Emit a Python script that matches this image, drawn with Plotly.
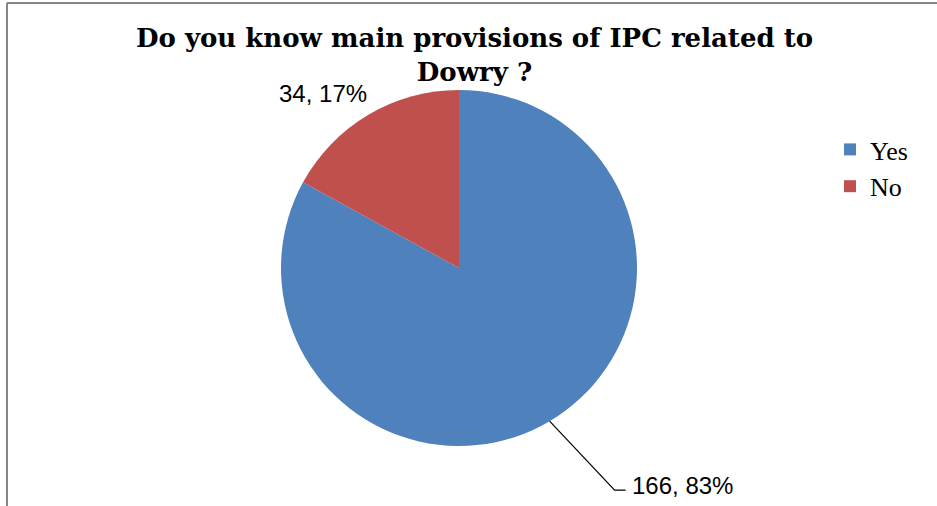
import math
import plotly.graph_objects as go

# Survey answers
labels = ["Yes", "No"]
counts = [166, 34]
shares = ["83%", "17%"]
colors = ["#4F81BD", "#C0504D"]
title_text = "Do you know main provisions of IPC related to<br>Dowry ?"

W, H = 937, 506
cx, cy, r = 459, 268, 178  # pie centre / radius in pixels (origin top-left)


def px_to_paper(x, y):
    return x / W, 1 - y / H


fig = go.Figure(
    go.Pie(
        labels=labels,
        values=counts,
        marker=dict(colors=colors, line=dict(width=0)),
        sort=False,
        direction="clockwise",
        rotation=0,
        textinfo="none",
        hoverinfo="label+value+percent",
        domain=dict(x=[(cx - r) / W, (cx + r) / W],
                    y=[(H - cy - r) / H, (H - cy + r) / H]),
    )
)

# Data labels placed at the middle angle of each slice
total = sum(counts)
cum = 0
shapes = []
annotations = []
label_font = dict(family="Liberation Sans", size=24, color="black")
for i, (v, s) in enumerate(zip(counts, shares)):
    theta = 2 * math.pi * (cum + v / 2) / total
    cum += v
    ex = cx + r * math.sin(theta)
    ey = cy - r * math.cos(theta)
    text = f"{v}, {s}"
    if i == 0:
        # leader line with an elbow, label to its right
        bx, by = ex + 65, ey + 69
        fx = bx + 11
        p0 = px_to_paper(ex, ey)
        p1 = px_to_paper(bx, by)
        p2 = px_to_paper(fx, by)
        shapes.append(dict(type="path", xref="paper", yref="paper",
                           path=f"M {p0[0]},{p0[1]} L {p1[0]},{p1[1]} L {p2[0]},{p2[1]}",
                           line=dict(color="black", width=1.2)))
        lx, ly = px_to_paper(fx + 4, by - 5)
        annotations.append(dict(x=lx, y=ly, xref="paper", yref="paper", text=text,
                                showarrow=False, xanchor="left", yanchor="middle",
                                font=label_font))
    else:
        lx, ly = px_to_paper(ex + 1, ey - 21)
        annotations.append(dict(x=lx, y=ly, xref="paper", yref="paper", text=text,
                                showarrow=False, xanchor="right", yanchor="middle",
                                font=label_font))

# Chart frame (top and left edges visible)
frame = dict(color="#868686", width=2)
shapes.append(dict(type="line", xref="paper", yref="paper",
                   x0=7 / W, y0=1 - 3 / H, x1=1, y1=1 - 3 / H, line=frame))
shapes.append(dict(type="line", xref="paper", yref="paper",
                   x0=7 / W, y0=1 - 3 / H, x1=7 / W, y1=0, line=frame))

fig.update_layout(
    width=W,
    height=H,
    margin=dict(l=0, r=0, t=0, b=0),
    paper_bgcolor="white",
    plot_bgcolor="white",
    title=dict(text=title_text, x=474.5 / W, xanchor="center", xref="paper",
               y=1 - 47 / H, yanchor="top", yref="container",
               font=dict(family="DejaVu Serif", size=26, color="black", weight="bold")),
    legend=dict(x=830 / W, y=1 - 126 / H, xanchor="left", yanchor="top",
                font=dict(family="Liberation Serif", size=26, color="black"),
                bgcolor="rgba(0,0,0,0)"),
    shapes=shapes,
    annotations=annotations,
)

fig.write_html("out.html")
